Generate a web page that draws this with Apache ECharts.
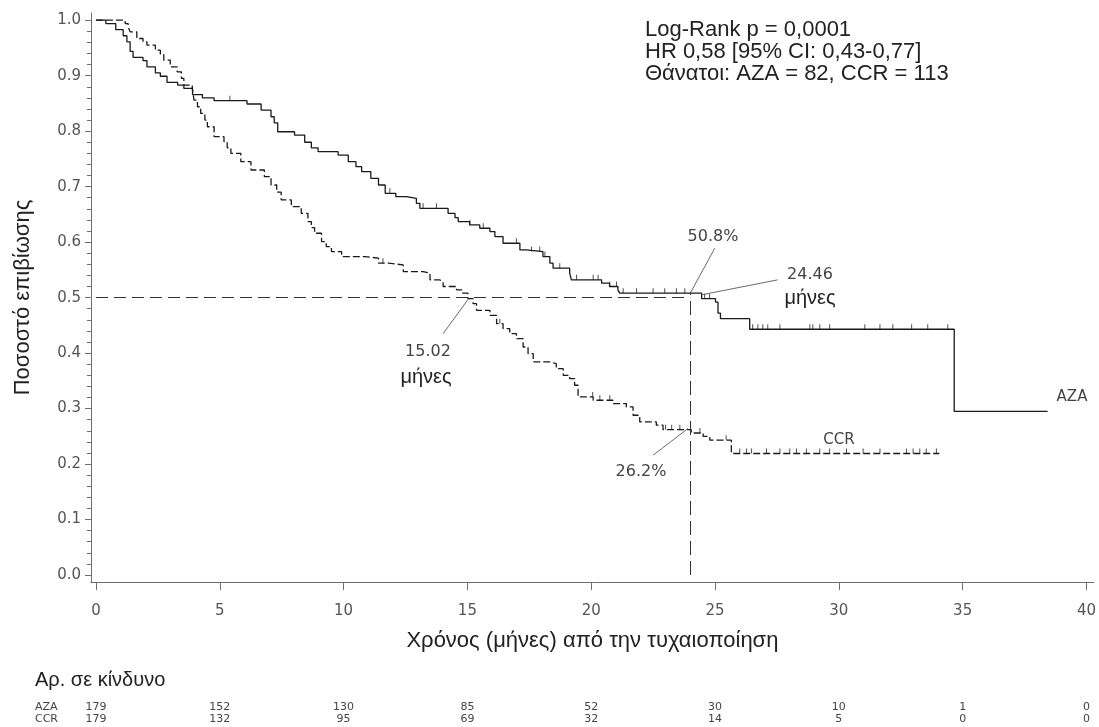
<!DOCTYPE html>
<html>
<head>
<meta charset="utf-8">
<script src="https://cdn.jsdelivr.net/npm/echarts@6/dist/echarts.min.js"></script>
<style>
  html, body { margin: 0; padding: 0; background: #fff; }
  #chart { width: 1099px; height: 727px; }
</style>
</head>
<body>
<div id="chart"></div>
<script>
// Kaplan-Meier steps: month of each drop and survival right after it
const azaTime = [0, 0.4, 0.8, 1.1, 1.25, 1.38, 1.5, 1.9, 2.06, 2.4, 2.6, 2.87, 3.3, 3.55, 3.9, 4.3, 4.77, 6.1, 6.67, 7.07, 7.2, 7.34, 8.02, 8.43, 8.7, 8.97, 9.78, 10.19, 10.5, 10.73, 11.1, 11.41, 11.68, 12.11, 12.54, 12.94, 13.08, 14.22, 14.5, 14.63, 15.09, 15.5, 15.91, 16.11, 16.44, 17.12, 17.38, 18.05, 18.33, 18.46, 19.13, 19.2, 20.42, 20.74, 21.08, 21.15, 24.46, 25.02, 25.12, 25.22, 26.4, 34.66, 38.43];
const azaSurv = [1.0, 0.994, 0.983, 0.972, 0.961, 0.944, 0.933, 0.927, 0.916, 0.905, 0.899, 0.888, 0.883, 0.877, 0.866, 0.86, 0.855, 0.849, 0.838, 0.826, 0.815, 0.799, 0.793, 0.78, 0.77, 0.763, 0.757, 0.745, 0.736, 0.727, 0.715, 0.703, 0.688, 0.682, 0.679, 0.67, 0.661, 0.652, 0.644, 0.637, 0.631, 0.625, 0.619, 0.61, 0.598, 0.586, 0.583, 0.574, 0.562, 0.553, 0.544, 0.532, 0.526, 0.52, 0.514, 0.508, 0.498, 0.492, 0.472, 0.462, 0.443, 0.295, 0.295];

const ccrTime = [0, 1.18, 1.3, 1.38, 1.65, 1.9, 2.06, 2.4, 2.6, 2.74, 3.0, 3.28, 3.45, 3.55, 3.89, 3.96, 4.1, 4.23, 4.4, 4.5, 4.77, 5.17, 5.3, 5.45, 5.85, 6.26, 6.8, 7.07, 7.3, 7.48, 7.89, 8.29, 8.56, 8.7, 8.83, 9.11, 9.3, 9.51, 9.92, 10.87, 11.41, 11.82, 12.41, 13.21, 13.49, 13.88, 14.02, 14.56, 14.77, 15.02, 15.23, 15.37, 15.91, 16.18, 16.44, 16.71, 16.98, 17.25, 17.45, 17.66, 18.33, 18.59, 18.87, 19.13, 19.33, 19.47, 20.08, 20.88, 21.42, 21.69, 21.96, 22.63, 22.9, 24.04, 24.52, 24.79, 25.66, 34.06];
const ccrSurv = [1.0, 0.994, 0.988, 0.979, 0.967, 0.961, 0.955, 0.946, 0.938, 0.928, 0.916, 0.907, 0.895, 0.883, 0.877, 0.856, 0.844, 0.832, 0.82, 0.808, 0.79, 0.781, 0.77, 0.76, 0.745, 0.73, 0.718, 0.703, 0.69, 0.676, 0.664, 0.652, 0.637, 0.626, 0.616, 0.601, 0.592, 0.583, 0.574, 0.571, 0.562, 0.559, 0.547, 0.544, 0.532, 0.529, 0.52, 0.514, 0.508, 0.498, 0.489, 0.477, 0.468, 0.453, 0.444, 0.435, 0.426, 0.411, 0.399, 0.384, 0.381, 0.372, 0.36, 0.354, 0.342, 0.321, 0.315, 0.309, 0.303, 0.288, 0.276, 0.27, 0.262, 0.256, 0.25, 0.243, 0.219, 0.219];

// censored observations (months)
const azaCensor = [5.41, 11.87, 13.21, 13.75, 15.1, 15.64, 16.98, 17.59, 17.92, 18.13, 18.73, 19.41, 20.08, 20.28, 20.75, 21.02, 21.29, 21.83, 22.5, 22.97, 23.44, 23.78, 24.58, 24.78, 26.52, 26.73, 26.93, 27.13, 27.62, 28.83, 28.95, 29.23, 29.63, 31.05, 31.66, 32.18, 32.94, 33.59, 34.4];
const ccrCensor = [11.59, 16.31, 20.06, 20.35, 20.75, 23.0, 23.25, 23.58, 24.39, 25.45, 26.0, 26.27, 26.47, 27.08, 27.62, 28.02, 28.29, 28.69, 29.23, 29.63, 30.31, 30.98, 31.66, 32.73, 33.0, 33.27, 33.53, 33.94];

const xTicks = [0, 5, 10, 15, 20, 25, 30, 35, 40];
const yTicks = [0, 0.1, 0.2, 0.3, 0.4, 0.5, 0.6, 0.7, 0.8, 0.9, 1.0];

// number at risk
const riskTimes = [0, 5, 10, 15, 20, 25, 30, 35, 40];
const riskAZA = [179, 152, 130, 85, 52, 30, 10, 1, 0];
const riskCCR = [179, 132, 95, 69, 32, 14, 5, 0, 0];

const yMinor = [];
for (let i = 0; i <= 50; i++) if (i % 5 !== 0) yMinor.push(+(i * 0.02).toFixed(2));

function steps(times, surv) {
  return times.map((t, i) => [t, surv[i]]);
}
function survAt(times, surv, t) {
  let s = surv[0];
  for (let i = 0; i < times.length; i++) if (times[i] <= t) s = surv[i];
  return s;
}

const axisGray = "#6e6e6e";
const tickFont = "DejaVu Sans";
const textFont = "Liberation Sans";

const chart = echarts.init(document.getElementById("chart"));
chart.setOption({
  animation: false,
  grid: { left: 91, top: 13, width: 1004, height: 569 },
  xAxis: {
    type: "value",
    min: -0.2,
    max: 40.3,
    splitLine: { show: false },
    axisLine: { onZero: false, lineStyle: { color: axisGray, width: 1 } },
    axisTick: { customValues: xTicks, length: 8, lineStyle: { color: axisGray } },
    axisLabel: { customValues: xTicks, margin: 22, color: "#555", fontSize: 15, fontFamily: tickFont },
    name: "Χρόνος (μήνες) από την τυχαιοποίηση",
    nameLocation: "middle",
    nameGap: 48,
    nameTextStyle: { fontSize: 22, color: "#222", fontFamily: textFont },
  },
  yAxis: [
    {
      type: "value",
      min: -0.0126,
      max: 1.013,
      splitLine: { show: false },
      axisLine: { show: true, onZero: false, lineStyle: { color: axisGray, width: 1 } },
      axisTick: { show: true, customValues: yTicks, length: 6, lineStyle: { color: axisGray } },
      axisLabel: {
        customValues: yTicks,
        margin: 10,
        color: "#555",
        fontSize: 15,
        fontFamily: tickFont,
        formatter: (v) => v.toFixed(1),
      },
      name: "Ποσοστό επιβίωσης",
      nameLocation: "middle",
      nameGap: 57,
      nameTextStyle: { fontSize: 22, color: "#222", fontFamily: textFont },
    },
    {
      type: "value",
      position: "left",
      offset: 0,
      min: -0.0126,
      max: 1.013,
      splitLine: { show: false },
      axisLine: { show: false, onZero: false },
      axisTick: { show: true, customValues: yMinor, length: 4, lineStyle: { color: axisGray } },
      axisLabel: { show: false },
    },
  ],
  series: [
    {
      name: "AZA",
      type: "line",
      step: "end",
      showSymbol: false,
      data: steps(azaTime, azaSurv),
      lineStyle: { color: "#1a1a1a", width: 1.3 },
      markLine: {
        silent: true,
        symbol: ["none", "none"],
        label: { show: false },
        data: [
          [{ coord: [0, 0.5], lineStyle: { color: "#333", width: 1, type: [12, 6] } }, { coord: [24, 0.5] }],
          [{ coord: [24, 0], lineStyle: { color: "#333", width: 1, type: [14, 6] } }, { coord: [24, 0.508] }],
          [{ coord: [24.0, 0.508], lineStyle: { color: "#444", width: 0.8, type: "solid" } }, { coord: [24.99, 0.589] }],
          [{ coord: [24.45, 0.505], lineStyle: { color: "#444", width: 0.8, type: "solid" } }, { coord: [27.53, 0.532] }],
          [{ coord: [15.03, 0.497], lineStyle: { color: "#444", width: 0.8, type: "solid" } }, { coord: [14.02, 0.435] }],
          [{ coord: [23.91, 0.264], lineStyle: { color: "#444", width: 0.8, type: "solid" } }, { coord: [22.5, 0.216] }],
        ],
      },
    },
    {
      name: "CCR",
      type: "line",
      step: "end",
      showSymbol: false,
      data: steps(ccrTime, ccrSurv),
      lineStyle: { color: "#1a1a1a", width: 1.3, type: [7, 3] },
    },
    {
      type: "scatter",
      symbol: "rect",
      symbolSize: [1, 5],
      symbolOffset: [0, -2.5],
      itemStyle: { color: "#222" },
      data: azaCensor.map((t) => [t, survAt(azaTime, azaSurv, t)]),
    },
    {
      type: "scatter",
      symbol: "rect",
      symbolSize: [1, 5],
      symbolOffset: [0, -2.5],
      itemStyle: { color: "#222" },
      data: ccrCensor.map((t) => [t, survAt(ccrTime, ccrSurv, t)]),
    },
  ],
});

// annotations and the at-risk table
const g = [];
const gray = "#444";
g.push({
  type: "text", x: 645, y: 19,
  style: {
    text: "Log-Rank p = 0,0001\nHR 0,58 [95% CI: 0,43-0,77]\nΘάνατοι: AZA = 82, CCR = 113",
    font: '22px "Liberation Sans"', fill: "#222", lineHeight: 22,
  },
});
function label(text, x, y, font, fill) {
  g.push({
    type: "text", x: x, y: y,
    style: { text: text, font: font, fill: fill, align: "center", verticalAlign: "middle" },
  });
}
const smallFont = '16px "DejaVu Sans"';
const greekFont = '20px "Liberation Sans"';
label("50.8%", 713, 237, smallFont, gray);
label("24.46", 810, 275, smallFont, gray);
label("μήνες", 810, 298, greekFont, "#222");
label("15.02", 428, 352, smallFont, gray);
label("μήνες", 426, 377, greekFont, "#222");
label("26.2%", 641, 472, smallFont, gray);
label("CCR", 839, 440, '15px "DejaVu Sans"', gray);
label("AZA", 1072, 397, '15px "DejaVu Sans"', gray);

g.push({
  type: "text", x: 35, y: 680,
  style: { text: "Αρ. σε κίνδυνο", font: '20px "Liberation Sans"', fill: "#222", verticalAlign: "middle" },
});
const tblFont = '11px "DejaVu Sans"';
g.push({ type: "text", x: 35, y: 707, style: { text: "AZA", font: tblFont, fill: gray, verticalAlign: "middle" } });
g.push({ type: "text", x: 35, y: 719, style: { text: "CCR", font: tblFont, fill: gray, verticalAlign: "middle" } });
riskTimes.forEach((t, i) => {
  const px = chart.convertToPixel({ xAxisIndex: 0 }, t);
  label(String(riskAZA[i]), px, 707, tblFont, gray);
  label(String(riskCCR[i]), px, 719, tblFont, gray);
});
chart.setOption({ graphic: g });
</script>
</body>
</html>
